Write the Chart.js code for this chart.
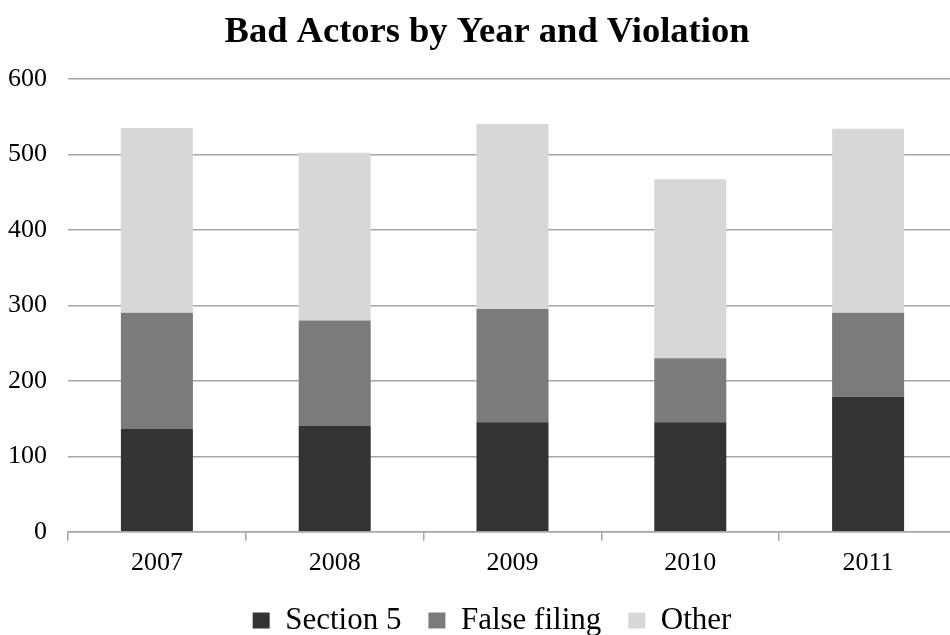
<!DOCTYPE html>
<html>
<head>
<meta charset="utf-8">
<script src="https://cdn.jsdelivr.net/npm/chart.js@4/dist/chart.umd.min.js"></script>
<style>
  html, body { margin: 0; padding: 0; background: #fff; }
  #wrap { width: 950px; height: 635px; }
</style>
</head>
<body>
<div id="wrap"><canvas id="c" width="950" height="635"></canvas></div>
<script>
const years = ["2007", "2008", "2009", "2010", "2011"];
const section5 = [136, 140, 145, 145, 179];
const falseFiling = [154, 140, 150, 85, 111];
const other = [245, 222, 245, 237, 244];
const yTicks = [0, 100, 200, 300, 400, 500, 600];

const serif = "'Liberation Serif', 'Times New Roman', serif";

// Small layout nudges applied after Chart.js computes its boxes
const layoutTweak = {
  id: 'layoutTweak',
  afterLayout(chart) {
    const x = chart.scales.x;
    x.right += 7; x.width += 7; x.configure();
    const lg = chart.legend;
    if (lg) { lg.left += 15; lg.right += 15; lg.top -= 8; lg.bottom -= 8; }
    const t = chart.titleBlock;
    if (t) { t.left += 10; t.right += 10; }
  }
};

new Chart(document.getElementById('c'), {
  type: 'bar',
  data: {
    labels: years,
    datasets: [
      { label: 'Section 5', data: section5, backgroundColor: '#333333' },
      { label: 'False filing', data: falseFiling, backgroundColor: '#7b7b7b' },
      { label: 'Other', data: other, backgroundColor: '#d7d7d7' }
    ]
  },
  plugins: [layoutTweak],
  options: {
    responsive: false,
    animation: false,
    devicePixelRatio: 1,
    layout: { padding: { left: 4, right: 0, top: 8, bottom: -19 } },
    datasets: { bar: { barPercentage: 0.405, categoryPercentage: 1.0 } },
    plugins: {
      title: {
        display: true,
        text: 'Bad Actors by Year and Violation',
        color: '#000',
        font: { family: serif, size: 36.5, weight: 'bold' },
        padding: { top: 3, bottom: 24 }
      },
      legend: {
        position: 'bottom',
        labels: {
          color: '#000',
          font: { family: serif, size: 31 },
          boxWidth: 17,
          boxHeight: 16,
          padding: 27
        }
      },
      tooltip: { enabled: false }
    },
    scales: {
      x: {
        stacked: true,
        grid: { display: true, drawOnChartArea: false, drawTicks: true, tickLength: 9, color: '#a6a6a6', lineWidth: 1.5 },
        border: { display: true, color: '#a6a6a6', width: 1.5 },
        ticks: { color: '#000', font: { family: serif, size: 26 }, padding: 7 }
      },
      y: {
        stacked: true,
        min: 0,
        max: 600,
        afterBuildTicks: (axis) => { axis.ticks = yTicks.map(v => ({ value: v })); },
        afterFit: (axis) => { axis.width = 64; },
        grid: { color: '#a6a6a6', lineWidth: 1.5, drawTicks: false },
        border: { display: false },
        ticks: { color: '#000', font: { family: serif, size: 26 }, padding: 21 }
      }
    }
  }
});
</script>
</body>
</html>
